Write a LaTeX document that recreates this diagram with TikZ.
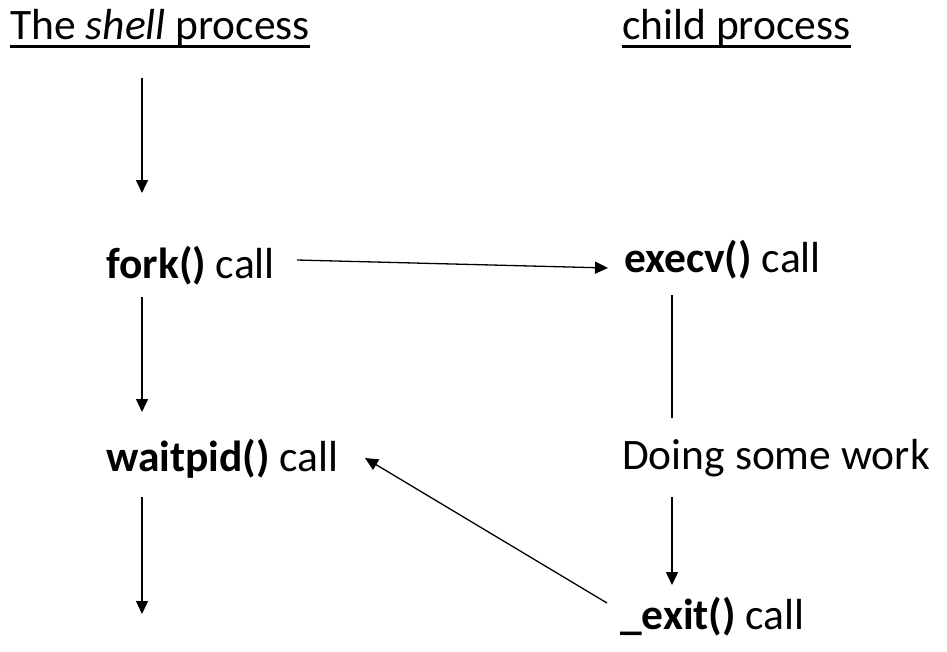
\documentclass[tikz,border=0pt]{standalone}
\usepackage{fontspec}
\setmainfont{Carlito}
\usetikzlibrary{arrows.meta}
\begin{document}
\begin{tikzpicture}[x=1pt,y=-1pt,
  lbl/.style={anchor=base west,inner sep=0pt,font=\fontsize{43.5}{50}\selectfont},
  arr/.style={draw,line width=1.3pt,-{Triangle[length=13pt,width=12pt]}},
  ln/.style={draw,line width=1.3pt},
  ul/.style={draw,line width=3pt}]
\useasboundingbox (0,0) rectangle (947,651);
\node[lbl] (shell) at (10,39) {The \emph{shell} process};
\node[lbl] (child) at (622,39) {child process};
\draw[ul] ([yshift=-7]shell.base west) -- ([yshift=-7]shell.base east);
\draw[ul] ([yshift=-7]child.base west) -- ([yshift=-7]child.base east);
\node[lbl] (fork) at (106,278) {\textbf{fork()} call};
\node[lbl] (execv) at (624,272) {\textbf{execv()} call};
\node[lbl] (wait) at (106,471) {\textbf{waitpid()} call};
\node[lbl] (work) at (622,469) {Doing some work};
\node[lbl] (exit) at (620,629) {\textbf{\_exit()} call};
\coordinate (s0) at (142,78);
\coordinate (s1) at (142,193);
\coordinate (f0) at (142,297);
\coordinate (f1) at (142,412);
\coordinate (w0) at (142,497);
\coordinate (w1) at (142,614);
\coordinate (fx0) at (297,260);
\coordinate (fx1) at (608,268);
\coordinate (e0) at (672,295);
\coordinate (e1) at (672,418);
\coordinate (d0) at (672,497);
\coordinate (d1) at (672,585);
\coordinate (x0) at (607,603);
\coordinate (x1) at (365,458);
\draw[arr] (s0) -- (s1);
\draw[arr] (f0) -- (f1);
\draw[arr] (w0) -- (w1);
\draw[arr] (fx0) -- (fx1);
\draw[ln] (e0) -- (e1);
\draw[arr] (d0) -- (d1);
\draw[arr] (x0) -- (x1);
\end{tikzpicture}
\end{document}
